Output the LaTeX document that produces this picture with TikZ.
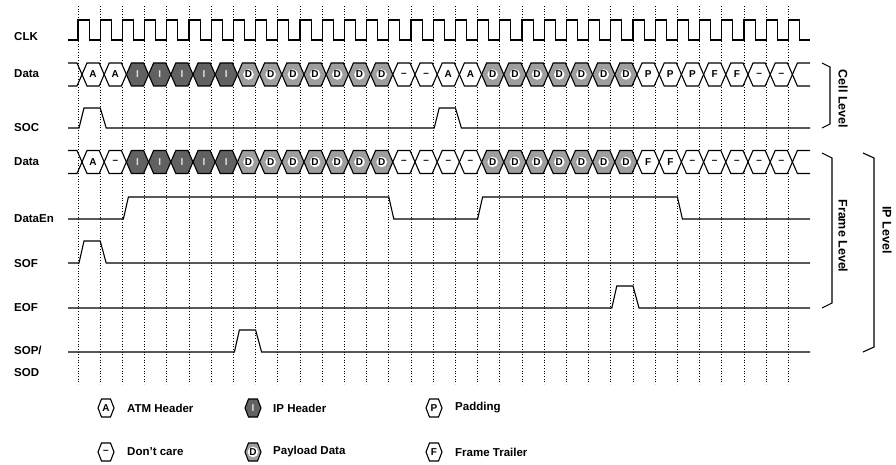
\documentclass[tikz,border=0pt]{standalone}
\usepackage{fontspec}
\setmainfont{Liberation Sans}
\def\txtA{A}
\def\txtN{--}
\def\txtI{I}
\def\txtD{D}
\def\txtP{P}
\def\txtF{F}
\newcommand\cellrow[2]{% #1 = mid y, #2 = list
  \foreach \t [count=\i from 0] in {#2} {
    \pgfmathsetmacro\ca{82+22.2*\i}
    \pgfmathsetmacro\cb{82+22.2*(\i+1)}
    \draw[hex\t] (\ca,#1) -- (\ca+5,#1-11.5) -- (\cb-5,#1-11.5) -- (\cb,#1) -- (\cb-5,#1+11.5) -- (\ca+5,#1+11.5) -- cycle;
    \node[lbl\t] (c#1n\i) at ({(\ca+\cb)/2},#1) {\csname txt\t\endcsname};
  }
  \draw[sig] (68,#1-11.5) -- (77,#1-11.5) -- (82,#1) -- (77,#1+11.5) -- (68,#1+11.5);
  \draw[sig] (810,#1-11.5) -- ({82+22.2*32+5},#1-11.5) -- ({82+22.2*32},#1) -- ({82+22.2*32+5},#1+11.5) -- (810,#1+11.5);
}
\newcommand\mypulse[3]{% low y, high y, k
  \draw[sig] (68,#1) -- ({79+22.2*#3},#1) -- ({84+22.2*#3},#2) -- ({100.2+22.2*#3},#2) -- ({106.2+22.2*#3},#1) -- (810,#1);
}
\newcommand\leghex[4]{% x, y, type, name
  \draw[hex#3] (#1-8,#2) -- (#1-4.5,#2-9) -- (#1+4.5,#2-9) -- (#1+8,#2) -- (#1+4.5,#2+9) -- (#1-4.5,#2+9) -- cycle;
  \node[lbl#3] (#4) at (#1,#2) {\csname txt#3\endcsname};
}
\begin{document}
\begin{tikzpicture}[x=1pt,y=-1pt,
  sig/.style={line width=1.1pt, line join=miter},
  gridline/.style={line width=0.7pt, dotted},
  hexA/.style={sig, fill=white},
  hexN/.style={sig, fill=white},
  hexP/.style={sig, fill=white},
  hexF/.style={sig, fill=white},
  hexI/.style={sig, fill=black!62},
  hexD/.style={sig, fill=black!38},
  lblbase/.style={font=\bfseries\fontsize{10}{10}\selectfont, inner sep=0.6pt},
  lblA/.style={lblbase},
  lblN/.style={lblbase},
  lblP/.style={lblbase},
  lblF/.style={lblbase},
  lblI/.style={lblbase, text=black!12},
  lblD/.style={lblbase, fill=white, circle, inner sep=0.2pt},
  siglabel/.style={font=\bfseries\fontsize{11.5}{11.5}\selectfont, anchor=base west, inner sep=0},
  leglabel/.style={font=\bfseries\fontsize{11.5}{11.5}\selectfont, anchor=west, inner sep=0},
  levellabel/.style={font=\bfseries\fontsize{12.5}{12.5}\selectfont, rotate=-90, inner sep=0},
  brace/.style={line width=1.1pt, line join=miter}
]
\useasboundingbox (0,0) rectangle (896,465);
\fill[white] (0,0) rectangle (896,465);
% dotted clock grid
\foreach \k in {0,...,32}
  \draw[gridline] ({78+22.2*\k},6) -- ({78+22.2*\k},384);
% signal names
\node[siglabel] (lclk) at (14,41) {CLK};
\node[siglabel] (ldata1) at (14,78) {Data};
\node[siglabel] (lsoc) at (14,132) {SOC};
\node[siglabel] (ldata2) at (14,166) {Data};
\node[siglabel] (ldataen) at (14,222) {DataEn};
\node[siglabel] (lsof) at (14,267) {SOF};
\node[siglabel] (leof) at (14,311) {EOF};
\node[siglabel] (lsop) at (14,354) {SOP/};
\node[siglabel] (lsod) at (14,376) {SOD};
% clock
\draw[sig] (68,40) \foreach \k in {0,...,32}{ -- ({78+22.2*\k},40) -- ({78+22.2*\k},20) -- ({89.1+22.2*\k},20) -- ({89.1+22.2*\k},40)} -- (810,40);
% data rows
\cellrow{74.5}{A,A,I,I,I,I,I,D,D,D,D,D,D,D,N,N,A,A,D,D,D,D,D,D,D,P,P,P,F,F,N,N}
\cellrow{162}{A,N,I,I,I,I,I,D,D,D,D,D,D,D,N,N,N,N,D,D,D,D,D,D,D,F,F,N,N,N,N,N}
% SOC
\draw[sig] (68,128) -- (79,128) -- (84,108) -- (100.2,108) -- (106.2,128)
  -- ({79+22.2*16},128) -- ({84+22.2*16},108) -- ({100.2+22.2*16},108) -- ({106.2+22.2*16},128) -- (810,128);
% DataEn
\draw[sig] (68,219) -- ({79+22.2*2},219) -- ({84+22.2*2},197) -- ({78+22.2*14},197) -- ({83+22.2*14},219)
  -- ({78+22.2*18},219) -- ({83+22.2*18},197) -- ({78+22.2*27},197) -- ({83+22.2*27},219) -- (810,219);
% SOF, EOF, SOP
\mypulse{263}{241}{0}
\mypulse{308}{286}{24}
\mypulse{352}{330}{7}
% braces
\draw[brace] (822,63) -- (830,67) -- (830,124) -- (822,128);
\node[levellabel] (cell) at (843,99) {Cell Level};
\draw[brace] (822,153) -- (832,158) -- (832,303) -- (822,308);
\node[levellabel] (frame) at (843,236) {Frame Level};
\draw[brace] (863,153) -- (874,158) -- (874,347) -- (863,352);
\node[levellabel] (ip) at (887,230) {IP Level};
% legend
\leghex{106}{408}{A}{legA}
\node[leglabel] (tA) at (127,408) {ATM Header};
\leghex{253}{408}{I}{legI}
\node[leglabel] (tI) at (273,408) {IP Header};
\leghex{434}{408}{P}{legP}
\node[leglabel] (tP) at (455,408) {Padding};
\leghex{106}{452}{N}{legN}
\node[leglabel] (tN) at (127,452) {Don't care};
\leghex{253}{452}{D}{legD}
\node[leglabel] (tD) at (273,452) {Payload Data};
\leghex{434}{452}{F}{legF}
\node[leglabel] (tF) at (455,452) {Frame Trailer};
\end{tikzpicture}
\end{document}
